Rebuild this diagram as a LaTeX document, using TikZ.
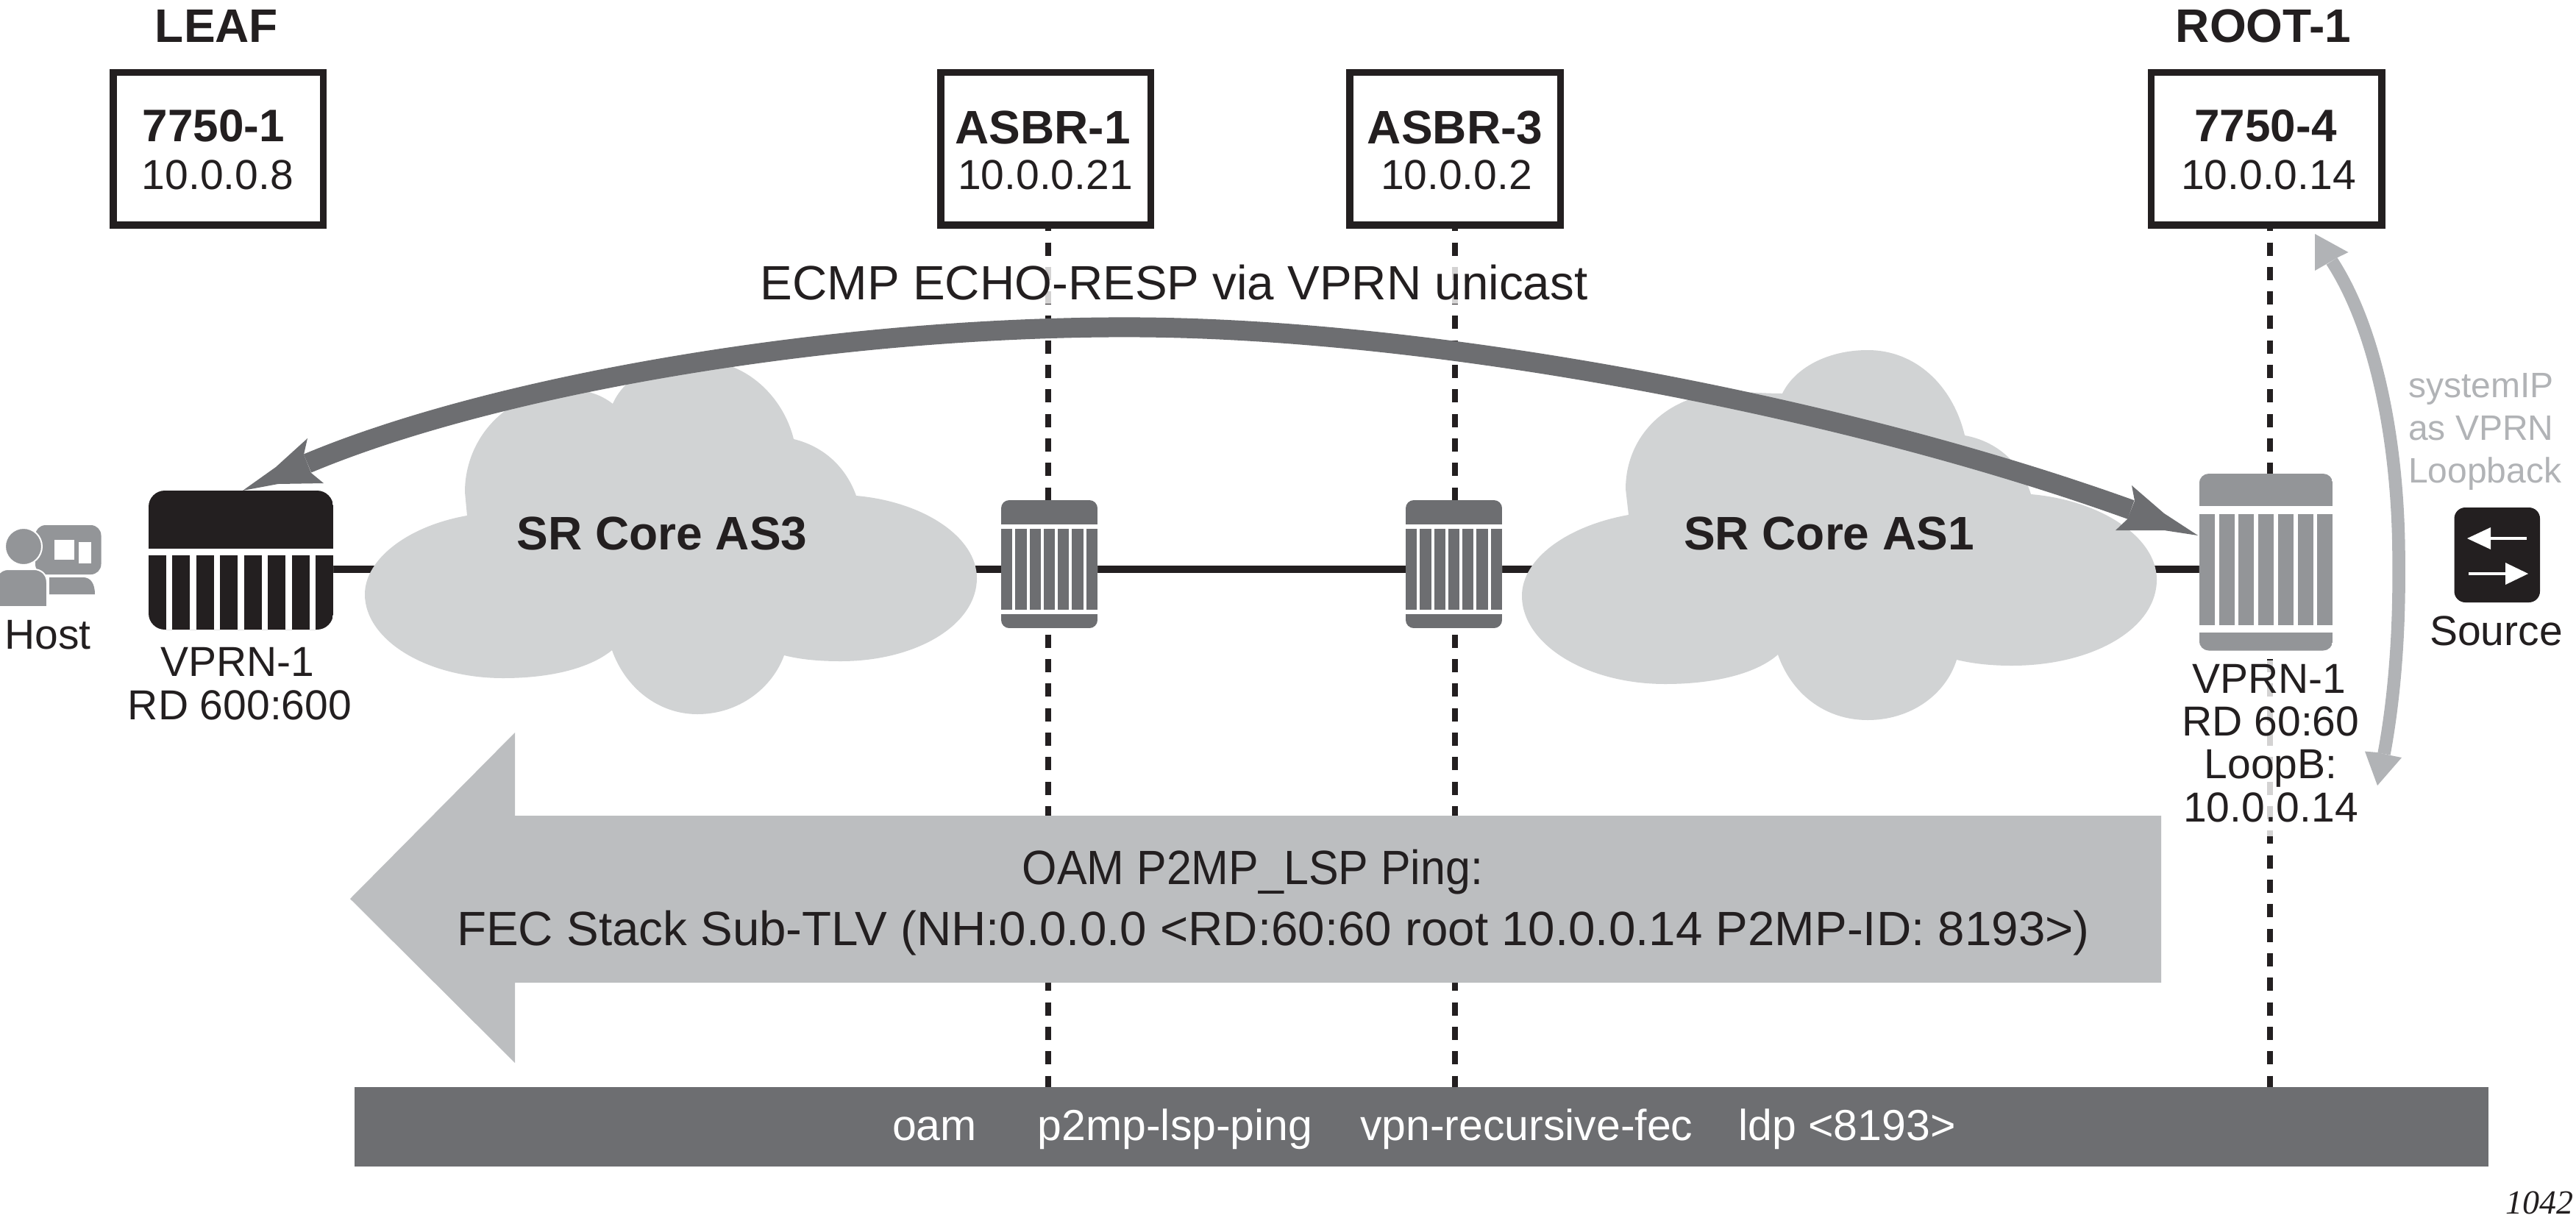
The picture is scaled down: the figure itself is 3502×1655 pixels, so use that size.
\documentclass[tikz,border=0pt]{standalone}
\usepackage{graphicx}
\usepackage{fontspec}
\setmainfont{Liberation Sans}
\newfontfamily\capfont{Liberation Serif}
\usetikzlibrary{calc}
\definecolor{ink}{HTML}{231F20}
\definecolor{grA}{HTML}{939598}
\definecolor{grB}{HTML}{6D6E71}
\definecolor{cloudgr}{HTML}{D1D3D4}
\definecolor{arrowlt}{HTML}{B1B3B6}
\definecolor{bigarrow}{HTML}{BCBEC0}
\tikzset{
  txt/.style={anchor=base,inner sep=0pt,outer sep=0pt,text=ink,font=\fontsize{57}{58}\selectfont},
  txtbig/.style={txt,font=\fontsize{65.5}{66}\selectfont},
  hd/.style={txt,font=\fontsize{64}{66}\selectfont\bfseries},
  hdnum/.style={txt,font=\fontsize{62}{66}\selectfont\bfseries},
  grtxt/.style={anchor=base west,inner sep=0pt,outer sep=0pt,text=arrowlt,font=\fontsize{48}{58}\selectfont},
  devbox/.style={draw=ink,fill=white,line width=9.5pt,inner sep=0pt},
  routerbox/.style={inner sep=0pt,outer sep=0pt},
  dashlink/.style={draw=ink,line width=8pt,dash pattern=on 18pt off 15.33pt,dash phase=14.33pt},
  link/.style={draw=ink,line width=9.5pt},
  mask/.style={fill=white,fill opacity=.8},
  cloudshape/.style={fill=cloudgr},
  arc/.style={draw=grB,line width=27pt},
  arclt/.style={draw=arrowlt,line width=17.5pt}
}
% x0 y0 x1 y1 topend stripe0 stripe1 botstart n ; \rg gap, \rc colour, \rr radius
\newcommand\routerbody[9]{%
  \fill[white,rounded corners=\rr pt] (#1,#2) rectangle (#3,#4);
  \begin{scope}
    \clip[rounded corners=\rr pt] (#1,#2) rectangle (#3,#4);
    \fill[\rc] (#1,#2) rectangle (#3,#5);
    \fill[\rc] (#1,#8) rectangle (#3,#4);
    \pgfmathsetmacro\rw{((#3-#1)-(#9-1)*\rg)/#9}
    \foreach \i in {1,...,#9}{
      \pgfmathsetmacro\xs{#1+(\i-1)*(\rw+\rg)}
      \pgfmathsetmacro\xe{\xs+\rw}
      \fill[\rc] (\xs,#6) rectangle (\xe,#7);
    }
  \end{scope}}
\begin{document}
\begin{tikzpicture}[x=1pt,y=-1pt]
\useasboundingbox (0,0) rectangle (3502,1655);
\fill[white] (0,0) rectangle (3502,1655);

% anchors
\node[routerbox,minimum width=251pt,minimum height=189pt] (leaf) at (327.5,761.5) {};
\node[routerbox,minimum width=131pt,minimum height=174pt] (asbrA) at (1426.5,767) {};
\node[routerbox,minimum width=131pt,minimum height=174pt] (asbrB) at (1976.5,767) {};
\node[routerbox,minimum width=181.5pt,minimum height=240.5pt] (root) at (3080.5,764.25) {};
\coordinate (lineY) at (0,774);

\node[devbox,minimum width=285.5pt,minimum height=207.5pt] (boxL) at (296.5,202) {};
\node[devbox,minimum width=285.5pt,minimum height=207.5pt] (boxA) at (1421.5,202) {};
\node[devbox,minimum width=286.5pt,minimum height=207.5pt] (boxB) at (1978,202) {};
\node[devbox,minimum width=313.5pt,minimum height=207.5pt] (boxR) at (3081,202) {};

% bar
\node[fill=grB,inner sep=0pt,outer sep=0pt,minimum width=2901pt,minimum height=107.5pt] (bar) at (1932.5,1531.75) {};

% dashed verticals
\path[dashlink] ([xshift=3pt]boxA.south) -- ([xshift=3pt]boxA.south |- bar.north);
\path[dashlink] (boxB.south) -- (boxB.south |- bar.north);
\path[dashlink] ([xshift=4.6pt]boxR.south) -- ([xshift=4.6pt]boxR.south |- bar.north);

% connecting line
\path[link] (leaf.east |- lineY) -- (root.west |- lineY);

% clouds
\fill[cloudshape] (635,701) .. controls (555,715) and (496,760) .. (496,808)
  .. controls (496,870) and (580,922) .. (684,922)
  .. controls (745,922) and (800,910) .. (832,884)
  .. controls (850,935) and (895,971) .. (948,971)
  .. controls (1005,971) and (1050,935) .. (1066,891)
  .. controls (1090,897) and (1115,899) .. (1143,899)
  .. controls (1245,899) and (1328,850) .. (1328,786)
  .. controls (1328,730) and (1255,682) .. (1164,674)
  .. controls (1150,635) and (1120,607) .. (1079,597)
  .. controls (1065,540) and (1015,490) .. (950,490)
  .. controls (895,490) and (850,510) .. (833,549)
  .. controls (815,535) and (795,530) .. (775,530)
  .. controls (690,530) and (632,595) .. (632,669) -- cycle;
\fill[cloudshape] (2214,700) .. controls (2130,715) and (2069,760) .. (2069,810)
  .. controls (2069,875) and (2155,930) .. (2264,930)
  .. controls (2325,930) and (2385,918) .. (2417,890)
  .. controls (2435,942) and (2480,979) .. (2539,979)
  .. controls (2597,979) and (2645,945) .. (2660,897)
  .. controls (2685,903) and (2710,905) .. (2735,905)
  .. controls (2845,905) and (2932,855) .. (2932,788)
  .. controls (2932,730) and (2855,680) .. (2761,672)
  .. controls (2748,630) and (2715,600) .. (2671,592)
  .. controls (2655,525) and (2605,476) .. (2539,476)
  .. controls (2485,476) and (2440,500) .. (2423,535)
  .. controls (2400,535) and (2380,533) .. (2355,533)
  .. controls (2270,533) and (2210,590) .. (2210,665) -- cycle;
\node[hd] (cloudA) at (900,747) {SR Core AS3};
\node[hd] (cloudB) at (2486.5,747) {SR Core AS1};

% big arrow
\fill[bigarrow] (476,1222) -- (700,996) -- (700,1109) -- (2938,1109) -- (2938,1336) -- (700,1336) -- (700,1445) -- cycle;
\node[txtbig] (oamA) at (1703,1202) {\scalebox{.93}[1]{OAM P2MP\_LSP Ping:}};
\node[txtbig] (oamB) at (1731,1285) {FEC Stack Sub-TLV (NH:0.0.0.0 <RD:60:60 root 10.0.0.14 P2MP-ID: 8193>)};

% routers
\def\rg{8.6}\def\rc{ink}\def\rr{22}
\routerbody{202}{667}{453}{856}{746}{755}{856}{856}{8}
\def\rg{3.9}\def\rc{grB}\def\rr{11}
\routerbody{1361}{680}{1492}{854}{713}{719}{829}{835}{7}
\routerbody{1911}{680}{2042}{854}{713}{719}{829}{835}{7}
\def\rg{5.8}\def\rc{grA}\def\rr{13}
\routerbody{2989.75}{644}{3171.25}{884.5}{688}{698.5}{850}{860}{7}

% masks over dashes behind text
\fill[mask] (1034,362) rectangle (2158,413);
\fill[mask] (3040,898) rectangle (3135,1137);

% dark arc
\coordinate (arcL) at (418,630);
\coordinate (arcT) at (1551,445);
\coordinate (arcR) at (2897,693);
\path[arc] (arcL) .. controls (680,520) and (1150,442) .. (arcT)
  .. controls (1950,448) and (2500,550) .. (arcR);
\fill[grB] (330,667) -- (375,635) -- (418,596) -- (413,618) -- (423,643) -- (440,657) -- (378,658) -- cycle;
\fill[grB] (2988,728) -- (2942,698) -- (2898,660) -- (2902,681) -- (2892,706) -- (2876,721) -- (2942,721) -- cycle;

% light arc
\coordinate (ltT) at (3170,355);
\coordinate (ltB) at (3241,1025);
\path[arclt] (ltT) .. controls (3235,455) and (3262,620) .. (3261,769)
  .. controls (3262,860) and (3255,950) .. (ltB);
\fill[arrowlt] (3147,318) -- (3192.5,343) -- (3178,350) -- (3161,360) -- (3147,368) -- cycle;
\fill[arrowlt] (3232,1068) -- (3265,1030) -- (3250,1027) -- (3232,1023) -- (3215,1021.6) -- cycle;

% host icon
\fill[grA,rounded corners=14pt] (48,714) rectangle (137.5,781);
\fill[white] (74,734) rectangle (101,761);
\fill[white] (107,737) rectangle (124,766);
\draw[white,line width=2pt,fill=grA] (32,743) circle (25pt);
\draw[white,line width=2pt,fill=grA] (-3,825) -- (64,825) -- (64,792) .. controls (64,781) and (56,774) .. (46,774) -- (12,774) .. controls (4,774) and (0,777) .. (-3,782) -- cycle;
\fill[white] (-3,826) rectangle (66,830);
\fill[grA] (67,808) -- (67,785) -- (113,785) .. controls (123,785) and (129,793) .. (129,808) -- cycle;
\node[txt] (host) at (65,882) {Host};

% source icon
\node[fill=ink,rounded corners=15pt,inner sep=0pt,minimum width=116.5pt,minimum height=129pt] (src) at (3394.75,754.5) {};
\draw[white,line width=4.5pt] (3385,732) -- (3435,732);
\fill[white] (3354,732) -- (3386,717) -- (3386,747) -- cycle;
\draw[white,line width=4.5pt] (3356,780) -- (3407,780);
\fill[white] (3437,780) -- (3406,765) -- (3406,795) -- cycle;
\node[txt] (srcT) at (3393.5,877) {Source};

% labels
\node[hd] (tL) at (294.5,57) {LEAF};
\node[hd] (tR) at (3077,57) {ROOT-1};
\node[hdnum] (nL) at (290.5,192) {7750-1};
\node[txt] (iL) at (296,257) {10.0.0.8};
\node[hd] (nA) at (1417.5,195) {ASBR-1};
\node[txt] (iA) at (1421,257) {10.0.0.21};
\node[hd] (nB) at (1978,195) {ASBR-3};
\node[txt] (iB) at (1980,257) {10.0.0.2};
\node[hdnum] (nR) at (3080,192) {7750-4};
\node[txt] (iR) at (3084,257) {10.0.0.14};
\node[txtbig] (ecmp) at (1596,407) {ECMP ECHO-RESP via VPRN unicast};

\node[txt] (vL) at (323,919) {VPRN-1};
\node[txt] (rL) at (326,978) {RD 600:600};
\node[txt] (vR) at (3085,942) {VPRN-1};
\node[txt] (rR) at (3087,1000) {RD 60:60};
\node[txt] (lR) at (3087,1058) {LoopB:};
\node[txt] (aR) at (3087,1117) {10.0.0.14};

\node[grtxt] (gA) at (3274,540) {systemIP};
\node[grtxt] (gB) at (3274,598) {as VPRN};
\node[grtxt] (gC) at (3274,656) {Loopback};

\node[anchor=base west,inner sep=0pt,outer sep=0pt,text=white,font=\fontsize{59}{60}\selectfont] (cmd) at (1213,1550) {oam\hspace{83pt}p2mp-lsp-ping\hspace{64.5pt}vpn-recursive-fec\hspace{62pt}ldp <8193>};
\node[anchor=base east,inner sep=0pt,outer sep=0pt,text=ink,font=\fontsize{46}{48}\capfont\itshape] (fig) at (3498,1650) {1042};
\end{tikzpicture}
\end{document}
